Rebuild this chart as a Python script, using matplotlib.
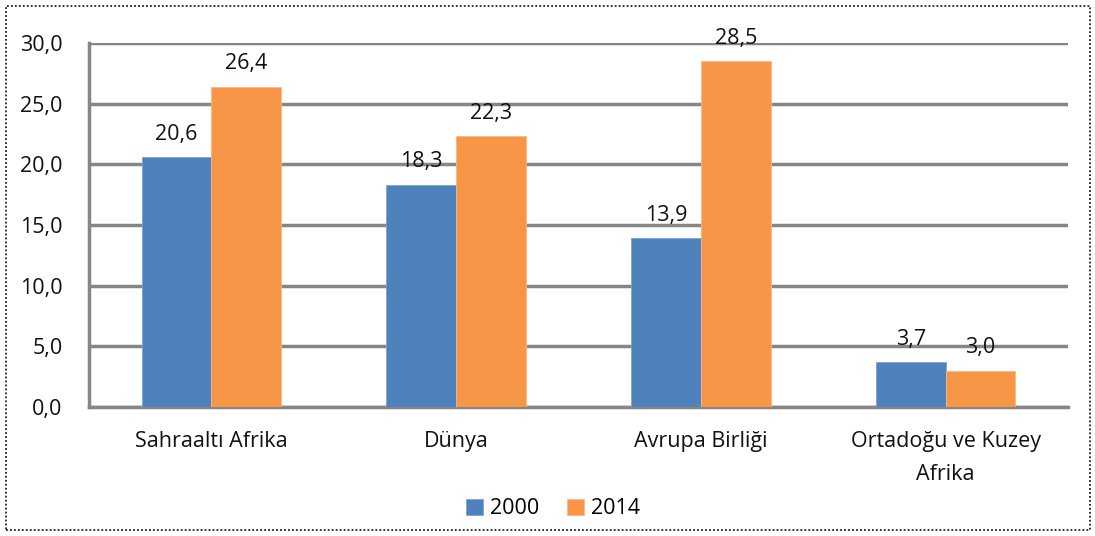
import matplotlib.pyplot as plt
import numpy as np
from matplotlib.patches import Rectangle

categories = ["Sahraaltı Afrika", "Dünya", "Avrupa Birliği", "Ortadoğu ve Kuzey\nAfrika"]
values_2000 = [20.6, 18.3, 13.9, 3.7]
values_2014 = [26.4, 22.3, 28.5, 3.0]
series_names = ["2000", "2014"]
yticks = [0, 5, 10, 15, 20, 25, 30]

BLUE = "#4F81BD"
ORANGE = "#F79646"
GRID = "#868686"
FONT = "Open Sans"
FS = 15.5


def fmt(v):
    return f"{v:.1f}".replace(".", ",")


fig = plt.figure(figsize=(10.95, 5.36), dpi=100)
ax = fig.add_axes([89 / 1095, 1 - 407 / 536, (1068 - 89) / 1095, (407 - 43) / 536])

x = np.arange(len(categories))
w = 0.285
b1 = ax.bar(x - w / 2, values_2000, w, color=BLUE, edgecolor="#7FA3D0", linewidth=0.6, label=series_names[0], zorder=3)
b2 = ax.bar(x + w / 2, values_2014, w, color=ORANGE, edgecolor="#F9B784", linewidth=0.6, label=series_names[1], zorder=3)

for bars in (b1, b2):
    for r in bars:
        ax.annotate(fmt(r.get_height()), (r.get_x() + r.get_width() / 2, r.get_height()),
                    xytext=(0, 9), textcoords="offset points", ha="center", va="bottom",
                    fontsize=FS, family=FONT, color="#111111", zorder=4)

ax.set_xlim(-0.5, len(categories) - 0.5)
ax.set_ylim(0, 30)
ax.set_yticks(yticks)
ax.set_yticklabels([fmt(v) for v in yticks], fontsize=FS, family=FONT, color="#111111")
ax.set_xticks(x)
ax.set_xticklabels(categories, fontsize=FS, family=FONT, color="#111111", linespacing=1.75)
ax.tick_params(axis="both", length=0)
ax.tick_params(axis="y", pad=19)
ax.tick_params(axis="x", pad=17)

ax.yaxis.grid(True, color=GRID, linewidth=2.5, zorder=0)
ax.set_axisbelow(True)
for s in ("top", "right"):
    ax.spines[s].set_visible(False)
for s in ("left", "bottom"):
    ax.spines[s].set_color(GRID)
    ax.spines[s].set_linewidth(2.5)

leg = fig.legend(loc="center", bbox_to_anchor=(0.505, 1 - 509 / 536), ncol=2, frameon=False,
                 prop={"family": FONT, "size": FS}, handlelength=0.8, handleheight=0.8,
                 handletextpad=0.3, columnspacing=1.3)

fig.patches.append(Rectangle((6 / 1095, 1 - 530 / 536), 1084 / 1095, 524 / 536,
                             transform=fig.transFigure, fill=False, edgecolor="#222222",
                             linewidth=1.3, linestyle=(0, (1, 1.2))))

fig.savefig("out.png", dpi=100)
